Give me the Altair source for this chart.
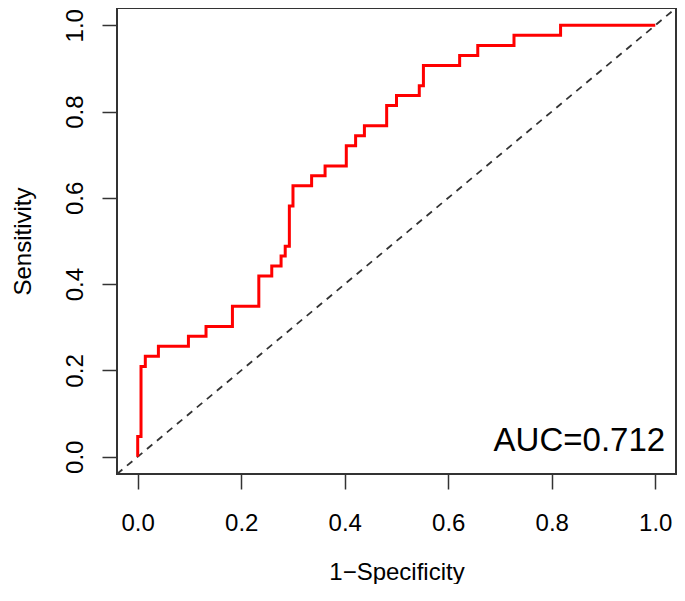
import altair as alt
import pandas as pd

# ROC step corners (x of each vertical rise, top of rise)
fpr = [0.0, 0.0, 0.0064, 0.0147, 0.040, 0.098, 0.132, 0.183, 0.234, 0.259,
       0.277, 0.285, 0.293, 0.300, 0.336, 0.362, 0.403, 0.421, 0.438, 0.481,
       0.500, 0.544, 0.552, 0.622, 0.657, 0.727, 0.817, 1.0]
tpr = [0.0, 0.047, 0.209, 0.233, 0.256, 0.279, 0.302, 0.349, 0.419, 0.442,
       0.465, 0.488, 0.581, 0.628, 0.651, 0.674, 0.721, 0.744, 0.767, 0.814,
       0.837, 0.860, 0.907, 0.930, 0.953, 0.977, 1.0, 1.0]

diag_vals = [-0.04, 1.04]
tick_vals = [0.0, 0.2, 0.4, 0.6, 0.8, 1.0]
auc_label = ["AUC=0.712"]

roc_df = pd.DataFrame({"fpr": fpr, "tpr": tpr, "idx": list(range(len(fpr)))})
diag_df = pd.DataFrame({"fpr": diag_vals, "tpr": diag_vals, "idx": [0, 1]})
txt_df = pd.DataFrame({"label": auc_label})

FONT = "Liberation Sans"
xscale = alt.Scale(domain=[-0.04, 1.04], nice=False, zero=False)
yscale = alt.Scale(domain=[-0.04, 1.04], nice=False, zero=False)

W, H = 559, 466

xaxis = alt.Axis(
    values=tick_vals, format=".1f", grid=False, domain=False,
    tickSize=15, tickColor="#333333", tickWidth=1.5,
    labelFont=FONT, labelFontSize=24, labelColor="black",
    labelBaseline="alphabetic", labelAlign="center", labelPadding=41,
    labelFlush=False, labelOverlap=False,
    title="1\u2212Specificity", titleFont=FONT, titleFontSize=24,
    titleFontWeight="normal", titleColor="black",
    titleX=W / 2, titleY=105, titleBaseline="alphabetic", titleAlign="center",
)
yaxis = alt.Axis(
    values=tick_vals, format=".1f", grid=False, domain=False,
    tickSize=15, tickColor="#333333", tickWidth=1.5,
    labelFont=FONT, labelFontSize=24, labelColor="black",
    labelAngle=270, labelBaseline="alphabetic", labelAlign="center",
    labelPadding=20, labelFlush=False, labelOverlap=False,
    title="Sensitivity", titleFont=FONT, titleFontSize=24,
    titleFontWeight="normal", titleColor="black",
    titleAngle=270, titleX=-87, titleY=H / 2,
    titleBaseline="alphabetic", titleAlign="center",
)

diag = alt.Chart(diag_df).mark_line(
    color="#333333", strokeWidth=1.8, strokeDash=[7, 6]
).encode(
    x=alt.X("fpr:Q", scale=xscale, axis=xaxis),
    y=alt.Y("tpr:Q", scale=yscale, axis=yaxis),
    order=alt.Order("idx:Q"),
)

roc = alt.Chart(roc_df).mark_line(
    color="#ff0000", strokeWidth=3, interpolate="step-after"
).encode(
    x=alt.X("fpr:Q", scale=xscale, axis=xaxis),
    y=alt.Y("tpr:Q", scale=yscale, axis=yaxis),
    order=alt.Order("idx:Q"),
)

text = alt.Chart(txt_df).mark_text(
    align="right", baseline="alphabetic", font=FONT, fontSize=33, color="black"
).encode(
    x=alt.datum(1.019),
    y=alt.datum(0.013),
    text="label:N",
)

chart = alt.layer(diag, roc, text).properties(
    width=W, height=H,
    autosize=alt.AutoSizeParams(type="none"),
    padding={"left": 109, "top": 0, "right": 1, "bottom": 110},
).configure_view(stroke="#333333", strokeWidth=2)

chart.save("out.html", embed_options={"renderer": "svg", "actions": False})
